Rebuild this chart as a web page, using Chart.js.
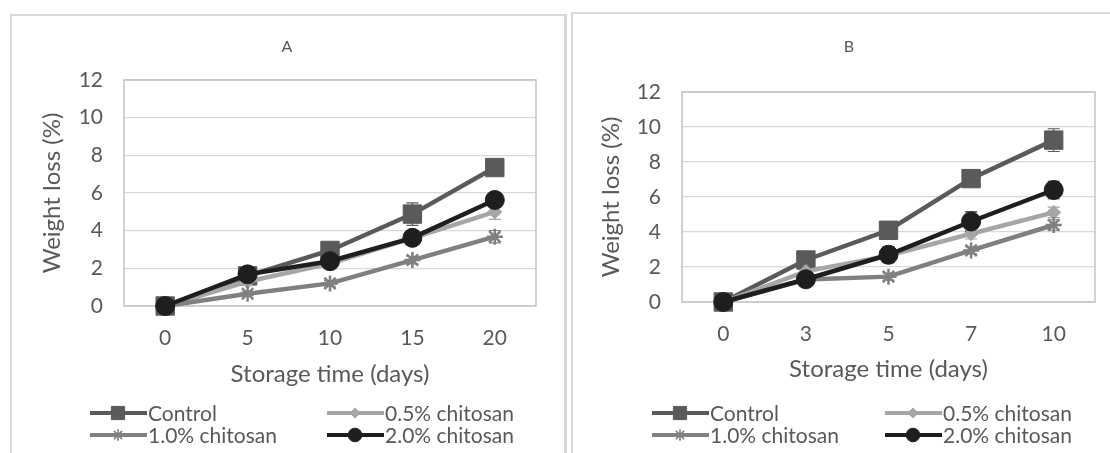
<!DOCTYPE html>
<html>
<head>
<meta charset="utf-8">
<script src="https://cdn.jsdelivr.net/npm/chart.js@4.4.0/dist/chart.umd.min.js"></script>
<style>
  body { margin: 0; background: #fff; width: 1110px; height: 453px; overflow: hidden; position: relative; }
  .panel { position: absolute; box-sizing: border-box; border-top: 2px solid #d9d9d9; border-left: 2px solid #d9d9d9; }
  #boxA { left: 10px; top: 14px; width: 557px; height: 460px; border-right: 3px solid #d9d9d9; }
  #boxB { left: 571px; top: 12px; width: 560px; height: 460px; }
  canvas { position: absolute; }
</style>
</head>
<body>
<div class="panel" id="boxA"></div>
<div class="panel" id="boxB"></div>
<canvas id="chartA" width="552" height="438" style="left:11px;top:15px"></canvas>
<canvas id="chartB" width="538" height="440" style="left:572px;top:13px"></canvas>
<script>
// ---- data ----
const seriesNames = [ 'Control', '0.5% chitosan', '1.0% chitosan', '2.0% chitosan' ];

// panel A (storage up to 20 days)
const daysA        = [ '0', '5', '10', '15', '20' ];
const controlA     = [ 0, 1.6, 2.95, 4.88, 7.35 ];
const chitosan05A  = [ 0, 1.3, 2.25, 3.6, 5.0 ];
const chitosan10A  = [ 0, 0.65, 1.2, 2.44, 3.68 ];
const chitosan20A  = [ 0, 1.68, 2.38, 3.62, 5.63 ];
const controlErrA  = [ 0, 0.15, 0.2, 0.6, 0.3 ];
const c05ErrA      = [ 0, 0.1, 0.2, 0.2, 0.4 ];
const c10ErrA      = [ 0, 0.1, 0.15, 0.2, 0.33 ];
const c20ErrA      = [ 0, 0.1, 0.2, 0.3, 0.3 ];

// panel B (storage up to 10 days)
const daysB        = [ '0', '3', '5', '7', '10' ];
const controlB     = [ 0, 2.4, 4.1, 7.05, 9.25 ];
const chitosan05B  = [ 0, 1.75, 2.65, 3.9, 5.12 ];
const chitosan10B  = [ 0, 1.28, 1.45, 2.95, 4.4 ];
const chitosan20B  = [ 0, 1.3, 2.7, 4.6, 6.4 ];
const controlErrB  = [ 0, 0.2, 0.2, 0.2, 0.65 ];
const c05ErrB      = [ 0, 0.2, 0.2, 0.3, 0.3 ];
const c10ErrB      = [ 0, 0.1, 0.2, 0.2, 0.3 ];
const c20ErrB      = [ 0, 0.1, 0.45, 0.55, 0.5 ];

const yTicks = [ 0, 2, 4, 6, 8, 10, 12 ];

// ---- styles ----
const textColor   = '#595959';
const fontFamily  = 'Lato, "Open Sans", sans-serif';
const lineColors  = [ '#5a5a5a', '#a6a6a6', '#808080', '#1e1e1e' ];
const pointStyles = [ 'rect', 'rectRot', 'star', 'circle' ];
const pointSizes  = [ 13, 7, 8, 9.5 ];

/**
 * Error bars drawn under the markers
 */
const errorBarPlugin = {
    id: 'errorBars',
    beforeDatasetsDraw( chart ) {
        let ctx = chart.ctx;
        let y   = chart.scales.y;
        chart.data.datasets.forEach( function( ds, i ) {
            let meta = chart.getDatasetMeta( i );
            ctx.save();
            ctx.strokeStyle = ds.borderColor;
            ctx.lineWidth   = 1.2;
            meta.data.forEach( function( pt, j ) {
                let e = ds.errors[ j ];
                if ( ! e ) return;
                let top = y.getPixelForValue( ds.data[ j ] + e );
                let bot = y.getPixelForValue( ds.data[ j ] - e );
                ctx.beginPath();
                ctx.moveTo( pt.x, top ); ctx.lineTo( pt.x, bot );
                ctx.moveTo( pt.x - 6, top ); ctx.lineTo( pt.x + 6, top );
                ctx.moveTo( pt.x - 6, bot ); ctx.lineTo( pt.x + 6, bot );
                ctx.stroke();
            });
            ctx.restore();
        });
    }
};

/**
 * Plot frame, panel title and a 2x2 legend
 */
const decorPlugin = {
    id: 'decor',
    beforeDatasetsDraw( chart ) {
        let a   = chart.chartArea;
        let ctx = chart.ctx;
        ctx.save();
        ctx.strokeStyle = '#c4c4c4';
        ctx.lineWidth   = 1.5;
        ctx.strokeRect( a.left, a.top, a.right - a.left, a.bottom - a.top );
        ctx.restore();
    },
    afterDraw( chart, args, opts ) {
        let ctx = chart.ctx;
        ctx.save();
        ctx.fillStyle    = textColor;
        ctx.font         = '16px ' + fontFamily;
        ctx.textAlign    = 'center';
        ctx.textBaseline = 'middle';
        ctx.fillText( opts.title, opts.titleX, opts.titleY );

        ctx.font      = '21px ' + fontFamily;
        ctx.textAlign = 'left';
        chart.data.datasets.forEach( function( ds, i ) {
            let x = opts.cols[ i % 2 ];
            let y = opts.rows[ Math.floor( i / 2 ) ];
            ctx.strokeStyle = ds.borderColor;
            ctx.lineWidth   = 4;
            ctx.beginPath();
            ctx.moveTo( x, y ); ctx.lineTo( x + 57, y );
            ctx.stroke();

            // marker on the legend line, thin outline
            let isStar = ( 'star' === ds.pointStyle );
            ctx.lineWidth = isStar ? 1.6 : 1;
            ctx.fillStyle = ds.backgroundColor;
            Chart.helpers.drawPoint( ctx, {
                pointStyle:  ds.pointStyle,
                radius:      ds.pointRadius * 0.72,
                rotation:    0,
                borderWidth: ctx.lineWidth
            }, x + 28, y );

            ctx.fillStyle = textColor;
            ctx.fillText( ds.label, x + 58, y + 1 );
        });
        ctx.restore();
    }
};

function wl_make_datasets( values, errors ) {
    return values.map( function( v, i ) {
        return {
            label:            seriesNames[ i ],
            data:             v,
            errors:           errors[ i ],
            borderColor:      lineColors[ i ],
            backgroundColor:  lineColors[ i ],
            borderWidth:      4.5,
            pointStyle:       pointStyles[ i ],
            pointRadius:      pointSizes[ i ],
            pointBorderWidth: 'star' === pointStyles[ i ] ? 2.5 : 1,
            pointBorderColor: lineColors[ i ],
            order:            3 - i,
            clip:             false,
            tension:          0
        };
    });
}

function wl_render( id, title, days, values, errors, geo ) {
    return new Chart( document.getElementById( id ), {
        type: 'line',
        data: { labels: days, datasets: wl_make_datasets( values, errors ) },
        options: {
            responsive: false,
            animation:  false,
            layout: { padding: { top: geo.top, right: geo.right, bottom: geo.bottom, left: 0 } },
            plugins: {
                legend:  { display: false },
                tooltip: { enabled: false },
                decor:   { title: title, titleX: geo.titleX, titleY: geo.titleY, cols: geo.cols, rows: geo.rows }
            },
            scales: {
                x: {
                    offset: true,
                    grid:   { display: false, drawTicks: false },
                    border: { display: false },
                    ticks:  { color: textColor, padding: 20, font: { family: fontFamily, size: 21 } },
                    title:  { display: true, text: 'Storage time (days)', color: textColor, padding: { top: 0, bottom: 0 },
                              font: { family: fontFamily, size: 24 } },
                    afterFit: function( s ) { s.height = geo.xHeight; }
                },
                y: {
                    min: 0, max: 12,
                    afterBuildTicks: function( s ) { s.ticks = yTicks.map( v => ( { value: v } ) ); },
                    grid:   { color: '#d9d9d9', lineWidth: 1.2, drawTicks: false },
                    border: { display: false },
                    ticks:  { color: textColor, padding: 21, font: { family: fontFamily, size: 21 } },
                    title:  { display: true, text: 'Weight loss (%)', color: textColor, padding: { top: geo.yTitlePad, bottom: 0 },
                              font: { family: fontFamily, size: 24 } },
                    afterFit: function( s ) { s.width = geo.yWidth; }
                }
            }
        },
        plugins: [ errorBarPlugin, decorPlugin ]
    });
}

wl_render( 'chartA', 'A', daysA,
    [ controlA, chitosan05A, chitosan10A, chitosan20A ],
    [ controlErrA, c05ErrA, c10ErrA, c20ErrA ],
    { top: 65, right: 27, bottom: 64, xHeight: 83, yWidth: 113, yTitlePad: 27,
      titleX: 276, titleY: 32, cols: [ 79, 316 ], rows: [ 398, 420 ] } );

wl_render( 'chartB', 'B', daysB,
    [ controlB, chitosan05B, chitosan10B, chitosan20B ],
    [ controlErrB, c05ErrB, c10ErrB, c20ErrB ],
    { top: 79, right: 15, bottom: 69, xHeight: 82, yWidth: 110, yTitlePad: 25,
      titleX: 277, titleY: 34, cols: [ 80, 313 ], rows: [ 400, 422 ] } );
</script>
</body>
</html>
